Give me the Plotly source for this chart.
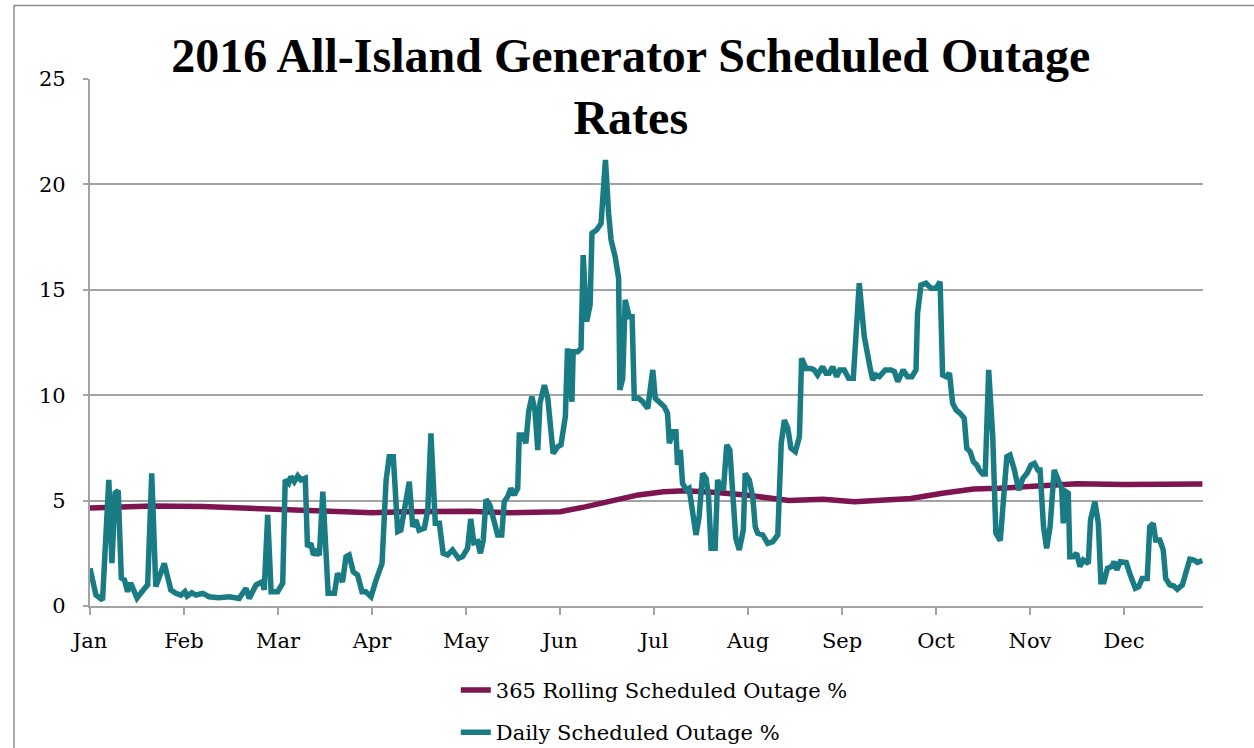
import plotly.graph_objects as go

# ---- data ----
months = ["Jan", "Feb", "Mar", "Apr", "May", "Jun", "Jul", "Aug", "Sep", "Oct", "Nov", "Dec"]
month_pos = [0, 30, 60, 90, 120, 150, 180, 210, 240, 270, 300, 330]

rolling_day = [0, 20, 36, 50, 62, 75, 90, 100, 115, 121, 134, 150, 158, 168, 175, 183, 190, 200,
               210, 223, 234, 244, 250, 262, 272, 282, 290, 305, 315, 330, 340, 355]
rolling_val = [4.65, 4.74, 4.72, 4.65, 4.53, 4.52, 4.42, 4.47, 4.48, 4.5, 4.42, 4.47, 4.7, 5.05,
               5.27, 5.42, 5.47, 5.38, 5.25, 5.0, 5.06, 4.95, 5.02, 5.1, 5.35, 5.55, 5.58, 5.72,
               5.8, 5.76, 5.76, 5.79]

daily_day = [0, 1.9, 4, 6, 7, 8, 9, 10, 11, 12, 13, 15, 17, 18.4, 19.7, 21, 23.7, 25.8, 27.4, 29,
             30.3, 31, 32.5, 33.8, 36, 38, 41, 44.5, 47.6, 49.8, 50.8, 53, 55, 55.6, 56.7, 57.8,
             59.9, 61.5, 62.3, 63.4, 64.1, 65.2, 66.3, 67.3, 68.7, 69.4, 70.5, 71.3, 72.1, 73.2,
             74.3, 75.1, 76, 78, 79, 80.6, 81.7, 82.7, 84, 85.4, 86.8, 88, 89.7, 91.3, 93.2, 94.5,
             95.5, 96.8, 98.2, 99.2, 100.8, 101.9, 103, 104, 105, 106.7, 107.8, 108.8, 110.2,
             111.5, 112.7, 114.1, 115.7, 117.6, 118.9, 120.5, 121.5, 122.5, 123.7, 124.6, 125.5,
             126.4, 127.6, 129, 130.1, 131.4, 132.2, 133.3, 134.3, 135.4, 136.5, 137, 138.1,
             139.1, 140, 141, 142, 142.9, 143.6, 145, 146.1, 147.8, 149.3, 150.3, 151.7, 152.4,
             153.2, 153.8, 154.2, 155.6, 156.7, 157.4, 158.5, 159.6, 160.2, 161.7, 163.1, 164.5,
             165.5, 166.3, 167.6, 168.7, 169.1, 170, 170.8, 172.1, 173, 173.7, 175.1, 176.4, 178,
             179.6, 180.4, 181.9, 183.3, 184.3, 184.9, 186, 187, 187.5, 188.4, 189.1, 190.4,
             191.2, 192.3, 193.4, 194.4, 195.5, 196.6, 197.4, 198.2, 199.5, 200.3, 201.4, 202.2,
             203.2, 204.2, 205.3, 206.1, 207.2, 208.5, 209.1, 210.4, 211.5, 212.3, 213.1, 214.7,
             216.3, 217.9, 219.5, 220.6, 221.6, 222.7, 223.7, 225.1, 226.4, 227.1, 228.5, 230.1,
             231.1, 232.2, 233.8, 234.9, 235.9, 237, 238.3, 239.3, 240.7, 242.1, 243.6, 245.5,
             247.1, 248.2, 248.9, 249.8, 250.8, 251.9, 253.8, 255.6, 256.7, 257.8, 259.5, 260.9,
             262.3, 263.6, 264.1, 265.2, 266.8, 268.4, 270, 271.3, 272.1, 273.2, 274.3, 275.3,
             276.4, 277.7, 279, 279.8, 280.9, 281.9, 283, 283.8, 284.9, 285.7, 286.8, 288.1,
             289.1, 290.5, 291.5, 292.6, 293.6, 295, 296.4, 297.7, 299, 300.3, 301.4, 302.5,
             303.2, 304.3, 305.3, 306.4, 307.7, 309, 310.1, 310.6, 311.5, 312.2, 312.7, 313.8,
             314.9, 315.9, 317, 318.6, 319.3, 320.7, 321.8, 322.6, 323.6, 324.7, 326.1, 326.8,
             327.7, 328.8, 330.7, 332, 333.6, 334.7, 335.8, 337.4, 338.2, 339.3, 340.1, 341.4,
             342.5, 343.3, 344.6, 345.9, 347, 348.6, 349.6, 351, 352.3, 353.4, 355]
daily_val = [1.79, 0.52, 0.28, 5.98, 2.03, 5.35, 5.47, 1.33, 1.23, 0.68, 1.09, 0.38, 0.76, 1.0,
             6.29, 0.92, 2.02, 0.76, 0.6, 0.52, 0.68, 0.47, 0.63, 0.52, 0.6, 0.44, 0.39, 0.44,
             0.36, 0.84, 0.36, 1.0, 1.15, 0.76, 4.32, 0.68, 0.68, 1.08, 5.98, 5.82, 6.14, 5.9,
             6.17, 5.98, 6.06, 2.81, 2.97, 2.42, 2.58, 2.42, 5.42, 2.5, 0.6, 0.6, 1.55, 1.15,
             2.34, 2.42, 1.63, 1.47, 0.68, 0.68, 0.44, 1.23, 2.02, 5.98, 7.08, 7.08, 3.53, 3.6,
             5.03, 5.9, 3.76, 4.08, 3.6, 3.69, 4.55, 8.19, 3.92, 3.92, 2.5, 2.42, 2.66, 2.26,
             2.34, 2.74, 4.13, 3.0, 3.05, 2.5, 3.13, 5.06, 4.79, 3.92, 3.37, 3.37, 4.95, 5.19,
             5.58, 5.27, 5.58, 8.11, 8.11, 7.72, 9.22, 9.93, 9.3, 7.4, 9.62, 10.48, 9.85, 7.24,
             7.56, 7.64, 8.98, 12.22, 10.56, 9.69, 12.06, 12.06, 12.22, 16.65, 13.49, 14.28,
             17.68, 17.84, 18.15, 21.16, 18.63, 17.36, 16.57, 15.55, 10.25, 10.8, 14.52, 13.72,
             13.72, 9.85, 9.85, 9.69, 9.38, 11.2, 9.85, 9.62, 9.45, 9.14, 7.72, 8.27, 8.27, 6.69,
             7.4, 5.82, 5.5, 5.58, 4.24, 3.37, 4.24, 6.29, 6.06, 5.19, 2.74, 2.74, 5.98, 5.58,
             5.58, 7.64, 7.4, 4.87, 3.21, 2.66, 3.6, 6.29, 5.98, 5.19, 3.76, 3.45, 3.37, 2.97,
             3.05, 3.37, 7.72, 8.82, 8.43, 7.48, 7.32, 8.03, 11.75, 11.27, 11.27, 11.2, 10.96,
             11.35, 11.04, 11.04, 11.35, 10.88, 11.2, 11.2, 10.8, 10.8, 15.31, 12.78, 11.67,
             11.35, 10.72, 10.96, 10.88, 11.2, 11.2, 11.12, 10.64, 11.2, 10.88, 10.88, 11.2,
             13.88, 15.23, 15.31, 15.07, 15.07, 15.38, 10.96, 10.88, 11.04, 9.62, 9.3, 9.14,
             8.9, 7.48, 7.32, 6.85, 6.69, 6.45, 6.26, 6.26, 11.2, 8.03, 3.45, 3.1, 4.87, 7.08,
             7.16, 6.45, 5.5, 6.06, 6.29, 6.69, 6.77, 6.45, 6.45, 3.76, 2.74, 3.76, 6.45, 5.98,
             5.58, 3.92, 5.42, 5.35, 2.34, 2.34, 2.5, 1.87, 2.18, 2.02, 4.08, 4.95, 3.92, 1.15,
             1.15, 1.79, 1.87, 2.1, 1.71, 2.1, 2.06, 1.47, 0.84, 0.92, 1.31, 1.31, 3.76, 3.92,
             3.13, 3.13, 2.66, 1.31, 1.0, 0.95, 0.79, 1.0, 1.55, 2.22, 2.18, 2.07, 2.15]

y_ticks = [0, 5, 10, 15, 20, 25]

PURPLE = "#7E1551"
TEAL = "#197B83"
GRID = "#A3A3A3"
FONT = "DejaVu Serif"
NBSP = "\u00a0"

fig = go.Figure()
fig.add_trace(go.Scatter(x=rolling_day, y=rolling_val, mode="lines",
                         name="365 Rolling Scheduled Outage %", legendgroup="a",
                         line=dict(color=PURPLE, width=5.5)))
fig.add_trace(go.Scatter(x=daily_day, y=daily_val, mode="lines",
                         name="Daily Scheduled Outage %", legendgroup="b",
                         line=dict(color=TEAL, width=5.5, shape="linear")))

fig.update_layout(
    width=1254, height=748,
    margin=dict(l=90, r=51, t=79, b=142, autoexpand=False),
    paper_bgcolor="white", plot_bgcolor="white",
    font=dict(family=FONT, size=21, color="black"),
    title=dict(text="<b>2016 All-Island Generator Scheduled Outage<br>Rates</b>",
               font=dict(family="Liberation Serif", size=48, color="black"),
               x=0.503, xanchor="center", xref="container",
               y=0.904, yanchor="top", yref="container"),
    showlegend=True,
    legend=dict(orientation="v", x=0.507, xanchor="center", y=-0.121, yanchor="top",
                font=dict(family=FONT, size=21), tracegroupgap=12,
                bgcolor="rgba(0,0,0,0)"),
    xaxis=dict(range=[0, 355.2], tickmode="array", tickvals=month_pos,
               ticktext=months, automargin=False, ticklabelstandoff=8,
               showgrid=False, zeroline=False, showline=True, linecolor=GRID, linewidth=1.5,
               ticks="outside", ticklen=7, tickcolor=GRID, tickwidth=1.5,
               tickfont=dict(family=FONT, size=21)),
    yaxis=dict(range=[0, 25], tickmode="array", tickvals=y_ticks,
               ticktext=[f"{v}{NBSP * 2}" for v in y_ticks], automargin=False,
               showgrid=True, gridcolor=GRID, gridwidth=1.5, zeroline=False,
               showline=True, linecolor=GRID, linewidth=1.5,
               ticks="outside", ticklen=5, tickcolor=GRID, tickwidth=1.5,
               tickfont=dict(family=FONT, size=21)),
    shapes=[dict(type="rect", xref="paper", yref="paper", x0=-0.0683, x1=1.08,
                 y0=-0.4, y1=1.1395, line=dict(color="#8C8C8C", width=1.5),
                 fillcolor="rgba(0,0,0,0)", layer="below")],
)

fig.write_html("out.html", config={"displayModeBar": False},
               post_script="document.body.style.margin='0';")
